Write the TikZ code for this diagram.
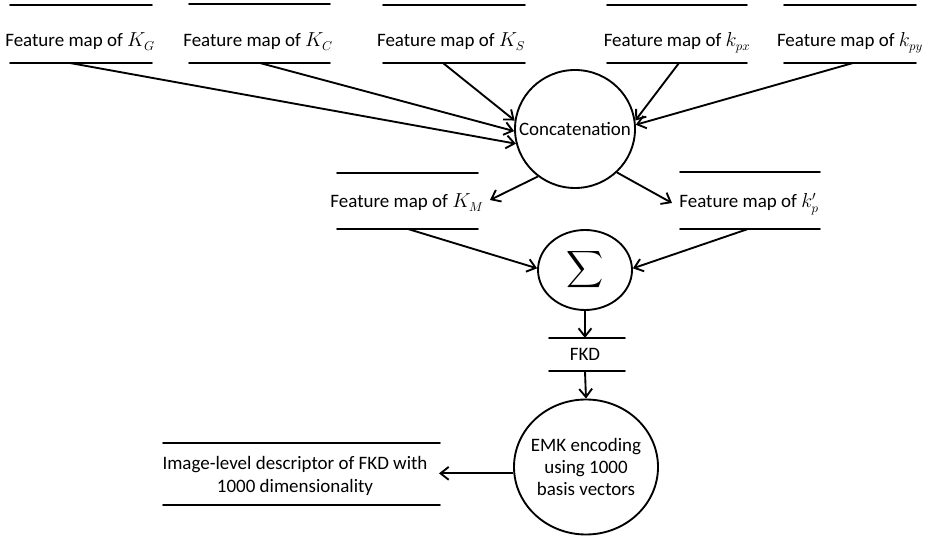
\documentclass[tikz,border=0pt]{standalone}
\usepackage{fontspec}
\setmainfont{Carlito}
\usepackage{tikz}
\usepackage{tkz-euclide}
\usetikzlibrary{calc}
\usetikzlibrary{arrows.meta}
\usetikzlibrary{shapes.geometric}

\begin{document}
\begin{tikzpicture}[%
  >={Straight Barb[length=7pt,width=11pt]},
  scale=3.0,
  every node/.style={font=\fontsize{16.2}{18.7}\selectfont},
  mapline/.style={line width=1.6pt},
  flow/.style={->,line width=1.6pt},
  round/.style={draw,ellipse,line width=1.6pt,inner sep=0pt},
]

  \useasboundingbox (0,0) rectangle (9.28,5.39);

  % top row of feature maps
  \tkzDefPoint(0.10,5.34){gt1} \tkzDefPoint(1.52,5.34){gt2}
  \tkzDefPoint(0.10,4.76){gb1} \tkzDefPoint(1.52,4.76){gb2}
  \tkzDefPoint(1.89,5.35){ct1} \tkzDefPoint(3.30,5.35){ct2}
  \tkzDefPoint(1.89,4.76){cb1} \tkzDefPoint(3.30,4.76){cb2}
  \tkzDefPoint(3.83,5.34){st1} \tkzDefPoint(5.25,5.34){st2}
  \tkzDefPoint(3.83,4.76){sb1} \tkzDefPoint(5.25,4.76){sb2}
  \tkzDefPoint(6.07,5.34){pxt1} \tkzDefPoint(7.47,5.34){pxt2}
  \tkzDefPoint(6.07,4.76){pxb1} \tkzDefPoint(7.47,4.76){pxb2}
  \tkzDefPoint(7.84,5.34){pyt1} \tkzDefPoint(9.16,5.34){pyt2}
  \tkzDefPoint(7.84,4.76){pyb1} \tkzDefPoint(9.16,4.76){pyb2}

  \tkzDefPoint(0.70,4.76){ga}
  \tkzDefPoint(2.60,4.76){ca}
  \tkzDefPoint(4.43,4.76){sa}
  \tkzDefPoint(6.79,4.76){pxa}
  \tkzDefPoint(8.53,4.76){pya}

  % middle row
  \tkzDefPoint(3.37,3.66){mt1} \tkzDefPoint(4.78,3.66){mt2}
  \tkzDefPoint(3.37,3.10){mb1} \tkzDefPoint(4.78,3.10){mb2}
  \tkzDefPoint(6.80,3.67){ppt1} \tkzDefPoint(8.20,3.67){ppt2}
  \tkzDefPoint(6.80,3.10){ppb1} \tkzDefPoint(8.20,3.10){ppb2}

  \tkzDefPoint(4.90,3.39){me}
  \tkzDefPoint(6.72,3.36){ppe}
  \tkzDefPoint(4.08,3.10){ma}
  \tkzDefPoint(7.48,3.10){ppa}

  % FKD and descriptor
  \tkzDefPoint(5.49,2.01){ft1} \tkzDefPoint(6.25,2.01){ft2}
  \tkzDefPoint(5.49,1.68){fb1} \tkzDefPoint(6.25,1.68){fb2}
  \tkzDefPoint(5.85,2.01){ft}
  \tkzDefPoint(5.85,1.68){fb}
  \tkzDefPoint(1.63,0.96){dt1} \tkzDefPoint(4.40,0.96){dt2}
  \tkzDefPoint(1.63,0.34){db1} \tkzDefPoint(4.40,0.34){db2}
  \tkzDefPoint(4.39,0.66){de}

  \tkzDrawSegments[mapline](gt1,gt2 gb1,gb2 ct1,ct2 cb1,cb2 st1,st2 sb1,sb2)
  \tkzDrawSegments[mapline](pxt1,pxt2 pxb1,pxb2 pyt1,pyt2 pyb1,pyb2)
  \tkzDrawSegments[mapline](mt1,mt2 mb1,mb2 ppt1,ppt2 ppb1,ppb2)
  \tkzDrawSegments[mapline](ft1,ft2 fb1,fb2 dt1,dt2 db1,db2)

  \node[anchor=base] (tG) at (0.80,4.92) {Feature map of $K_G$};
  \node[anchor=base] (tC) at (2.58,4.92) {Feature map of $K_C$};
  \node[anchor=base] (tS) at (4.51,4.92) {Feature map of $K_S$};
  \node[anchor=base] (tpx) at (6.77,4.92) {Feature map of $k_{px}$};
  \node[anchor=base] (tpy) at (8.50,4.92) {Feature map of $k_{py}$};
  \node[anchor=base] (tM) at (4.07,3.31) {Feature map of $K_M$};
  \node[anchor=base] (tpp) at (7.49,3.31) {Feature map of $k_{p}^{\prime}$};
  \node[anchor=base] (tF) at (5.85,1.78) {FKD};
  \node[align=center, font=\fontsize{16.2}{19.5}\selectfont] (desc) at (2.95,0.63) {Image-level descriptor of FKD with\\1000 dimensionality};

  \node[round, minimum width=3.6cm, minimum height=3.54cm] (concat) at (5.75,4.10) {};
  \node (tconcat) at (concat.center) {Concatenation};
  \node[round, minimum width=2.82cm, minimum height=2.4cm] (sum) at (5.85,2.69) {};
  \node[font=\normalsize, scale=2.2] (tsum) at (sum.center) {$\displaystyle\sum$};
  \node[round, minimum width=4.32cm, minimum height=4.05cm] (emk) at (5.86,0.72) {};
  \node[align=center] (temk) at (emk.center) {EMK encoding\\using 1000\\basis vectors};

  \draw[flow] (ga) -- (concat.194);
  \draw[flow] (ca) -- (concat.182);
  \draw[flow] (sa) -- (concat.172);
  \draw[flow] (pxa) -- (concat.8);
  \draw[flow] (pya) -- (concat.4);

  \draw[flow] (concat.232) -- (me);
  \draw[flow] (concat.314) -- (ppe);
  \draw[flow] (ma) -- (sum.178);
  \draw[flow] (ppa) -- (sum.2);

  \draw[flow] (sum.south) -- (ft);
  \draw[flow] (fb) -- (emk.north);
  \draw[flow] (emk.185) -- (emk.185 -| de);

\end{tikzpicture}
\end{document}
